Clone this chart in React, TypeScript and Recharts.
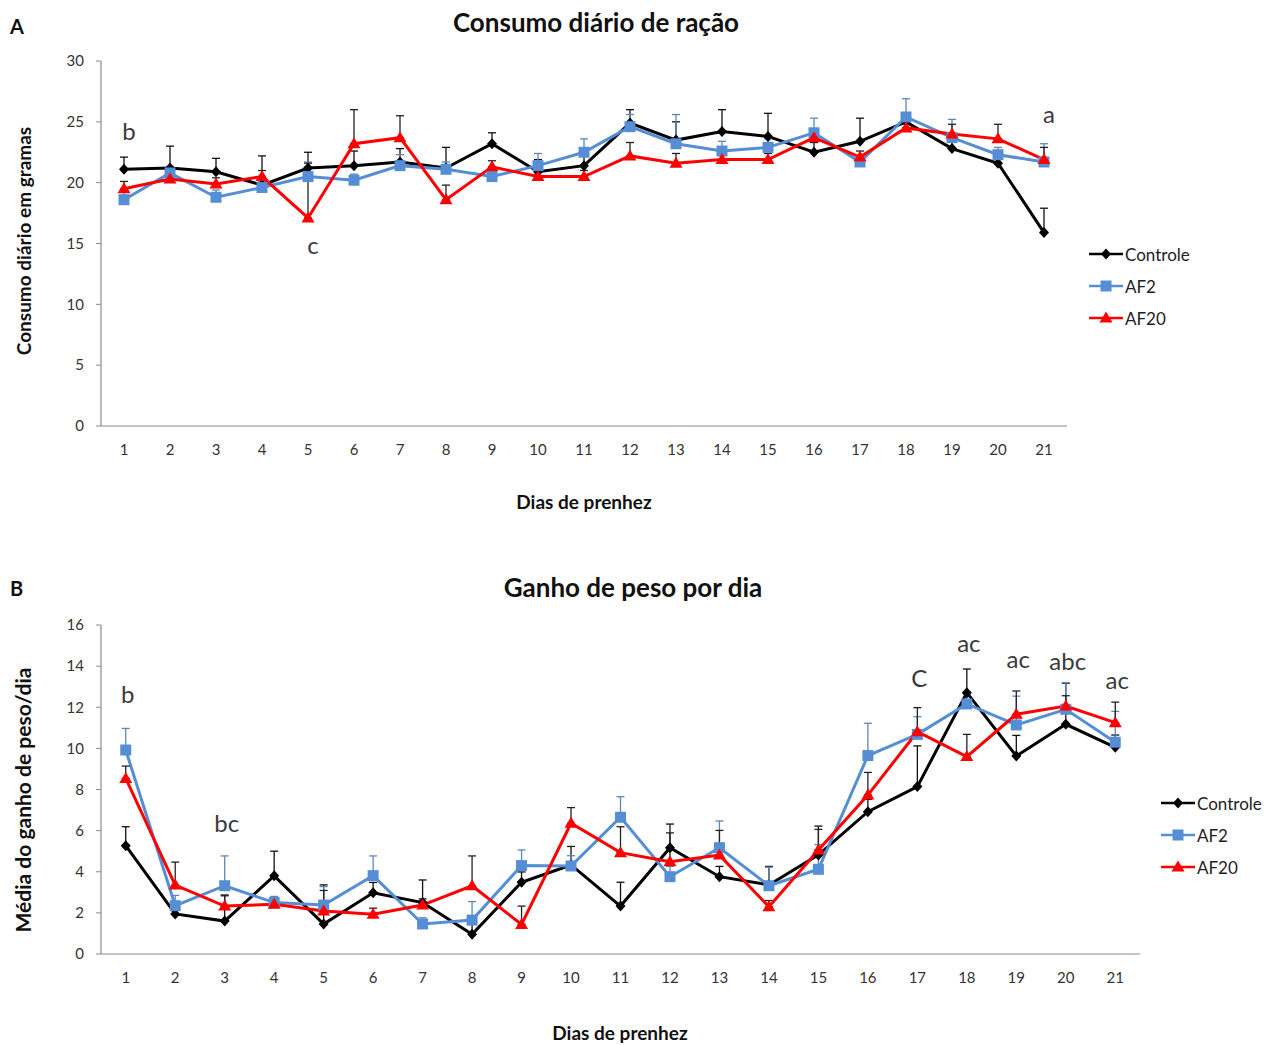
import React from 'react';
import { LineChart, Line, XAxis, YAxis, ErrorBar, ReferenceDot, Legend } from 'recharts';

const days = [1, 2, 3, 4, 5, 6, 7, 8, 9, 10, 11, 12, 13, 14, 15, 16, 17, 18, 19, 20, 21];

// Panel A – Consumo diário de ração (g)
const feedControle = [21.1, 21.2, 20.9, 19.8, 21.2, 21.4, 21.7, 21.2, 23.2, 20.9, 21.4, 24.9, 23.5, 24.2, 23.8, 22.5, 23.4, 25.0, 22.8, 21.6, 15.9];
const feedAF2 = [18.6, 20.8, 18.8, 19.6, 20.5, 20.2, 21.4, 21.1, 20.5, 21.4, 22.5, 24.6, 23.2, 22.6, 22.9, 24.1, 21.7, 25.4, 23.7, 22.3, 21.7];
const feedAF20 = [19.5, 20.3, 19.9, 20.5, 17.1, 23.2, 23.7, 18.6, 21.3, 20.5, 20.5, 22.2, 21.6, 21.9, 21.9, 23.7, 22.1, 24.5, 24.0, 23.6, 21.9];
const feedErrControle = [1.0, 1.8, 1.1, 2.4, 1.3, 1.2, 1.1, 1.7, 0.9, 1.0, 0.9, 1.1, 1.5, 1.8, 1.9, 0.8, 1.9, 0.5, 0.9, 1.0, 2.0];
const feedErrAF2 = [0.8, 0.5, 0.6, 0.5, 1.2, 0.5, 0.9, 0.6, 0.5, 1.0, 1.1, 1.0, 2.4, 0.8, 0.7, 1.2, 0.4, 1.5, 1.5, 0.6, 1.5];
const feedErrAF20 = [0.6, 0.5, 0.5, 0.5, 4.5, 2.8, 1.8, 1.2, 0.5, 0.5, 0.5, 1.1, 0.8, 0.5, 0.5, 0.5, 0.5, 0.5, 0.8, 1.2, 1.0];
const feedTicks = [0, 5, 10, 15, 20, 25, 30];
const feedNotes = [
  { day: 1, value: 24.2, text: 'b' },
  { day: 5, value: 14.8, text: 'c' },
  { day: 21, value: 25.6, text: 'a' },
];

// Panel B – Ganho de peso por dia
const gainControle = [5.27, 1.95, 1.6, 3.8, 1.46, 2.98, 2.5, 0.96, 3.49, 4.33, 2.33, 5.17, 3.76, 3.36, 4.82, 6.92, 8.14, 12.71, 9.63, 11.17, 10.05];
const gainAF2 = [9.92, 2.35, 3.32, 2.5, 2.38, 3.81, 1.46, 1.65, 4.3, 4.28, 6.65, 3.76, 5.17, 3.32, 4.12, 9.65, 10.68, 12.16, 11.14, 11.9, 10.3];
const gainAF20 = [8.54, 3.35, 2.33, 2.42, 2.09, 1.93, 2.38, 3.32, 1.44, 6.36, 4.93, 4.49, 4.81, 2.3, 5.06, 7.73, 10.81, 9.6, 11.66, 12.06, 11.25];
const gainErrControle = [0.92, 0.5, 1.27, 1.2, 1.9, 0.5, 1.1, 0.5, 0.5, 0.9, 1.16, 1.15, 0.5, 0.9, 1.4, 0.6, 1.98, 1.15, 1.0, 2.0, 0.6];
const gainErrAF2 = [1.05, 0.5, 1.45, 0.3, 0.9, 0.96, 0.3, 0.9, 0.76, 0.5, 1.0, 0.5, 1.3, 0.9, 1.2, 1.57, 0.86, 0.5, 1.4, 1.3, 1.5];
const gainErrAF20 = [0.6, 1.12, 0.5, 0.3, 1.0, 0.3, 0.3, 1.45, 0.89, 0.76, 1.26, 1.4, 1.2, 0.3, 1.0, 1.1, 1.17, 1.08, 1.13, 0.5, 1.0];
const gainTicks = [0, 2, 4, 6, 8, 10, 12, 14, 16];
const gainNotes = [
  { day: 1, value: 12.6, text: 'b' },
  { day: 3, value: 6.37, text: 'bc' },
  { day: 17, value: 13.4, text: 'C' },
  { day: 18, value: 15.1, text: 'ac' },
  { day: 19, value: 14.3, text: 'ac' },
  { day: 20, value: 14.25, text: 'abc' },
  { day: 21, value: 13.3, text: 'ac' },
];

const seriesNames = ['Controle', 'AF2', 'AF20'];
const colors = ['#000000', '#558ED5', '#FF0000'];
const errColors = ['#111111', '#5f86b8', '#222222'];

const FONT = 'Lato, "Open Sans", sans-serif';

function build(c: number[], b: number[], r: number[], ec: number[], eb: number[], er: number[]) {
  return days.map((d, i) => ({
    day: d,
    Controle: c[i],
    AF2: b[i],
    AF20: r[i],
    errControle: [0, ec[i]],
    errAF2: [0, eb[i]],
    errAF20: [0, er[i]],
  }));
}

const dataA = build(feedControle, feedAF2, feedAF20, feedErrControle, feedErrAF2, feedErrAF20);
const dataB = build(gainControle, gainAF2, gainAF20, gainErrControle, gainErrAF2, gainErrAF20);

function markerPath(kind: number, cx: number, cy: number) {
  if (kind === 0) return `M${cx},${cy - 5.5}L${cx + 5},${cy}L${cx},${cy + 5.5}L${cx - 5},${cy}Z`;
  if (kind === 1) return `M${cx - 5.5},${cy - 5.5}h11v11h-11Z`;
  return `M${cx},${cy - 6.5}L${cx + 6.5},${cy + 4.5}L${cx - 6.5},${cy + 4.5}Z`;
}

function makeDot(kind: number) {
  return (props: any) => {
    const { cx, cy, index } = props;
    if (cx == null || cy == null) return <g key={`d${kind}-${index}`} />;
    return <path key={`d${kind}-${index}`} d={markerPath(kind, cx, cy)} fill={colors[kind]} stroke="none" />;
  };
}

function LegendBox() {
  return (
    <div style={{ fontFamily: FONT, fontSize: 17, color: '#222' }}>
      {seriesNames.map((n, k) => (
        <div key={n} style={{ display: 'flex', alignItems: 'center', height: 32 }}>
          <svg width={36} height={16} style={{ display: 'block' }}>
            <line x1={1} y1={8} x2={35} y2={8} stroke={colors[k]} strokeWidth={2.5} />
            <path d={markerPath(k, 18, 8)} fill={colors[k]} />
          </svg>
          <span style={{ marginLeft: 1 }}>{n}</span>
        </div>
      ))}
    </div>
  );
}

function Panel(props: {
  data: any[];
  ticks: number[];
  max: number;
  notes: { day: number; value: number; text: string }[];
  width: number;
  height: number;
  margin: any;
  legendLeft: number;
  legendTop: number;
  noteDx: number;
}) {
  const { data, ticks, max, notes, width, height, margin, legendLeft, legendTop, noteDx } = props;
  return (
    <LineChart width={width} height={height} data={data} margin={margin}>
      <XAxis
        dataKey="day"
        type="category"
        scale="band"
        interval={0}
        height={30}
        tickLine={false}
        tickSize={6}
        tickMargin={12}
        axisLine={{ stroke: '#8a8a8a', strokeWidth: 1.2 }}
        tick={{ fill: '#333', fontSize: 15, fontFamily: FONT }}
      />
      <YAxis
        type="number"
        domain={[0, max]}
        ticks={ticks}
        width={60}
        interval={0}
        tickSize={5}
        tickMargin={12}
        axisLine={{ stroke: '#8a8a8a', strokeWidth: 1.2 }}
        tickLine={{ stroke: '#8a8a8a' }}
        tick={{ fill: '#333', fontSize: 15, fontFamily: FONT }}
      />
      {seriesNames.map((n, k) => (
        <Line
          key={n}
          type="linear"
          dataKey={n}
          stroke={colors[k]}
          strokeWidth={3}
          dot={makeDot(k)}
          activeDot={false}
          isAnimationActive={false}
        >
          <ErrorBar dataKey={`err${n}`} direction="y" width={4} stroke={errColors[k]} strokeWidth={1.3} />
        </Line>
      ))}
      {notes.map((a, i) => (
        <ReferenceDot
          key={i}
          x={a.day}
          y={a.value}
          r={1}
          fill="none"
          stroke="none"
          ifOverflow="visible"
          label={{ value: a.text, position: 'center', dx: noteDx, fill: '#3a3a3a', fontSize: 24, fontFamily: FONT }}
        />
      ))}
      <Legend
        layout="vertical"
        align="center"
        verticalAlign="middle"
        content={() => <LegendBox />}
        wrapperStyle={{ left: legendLeft, top: legendTop, width: 140 }}
      />
    </LineChart>
  );
}

const textBold: React.CSSProperties = { position: 'absolute', fontFamily: FONT, fontWeight: 700, color: '#111', whiteSpace: 'nowrap' };

export default function App() {
  return (
    <div style={{ position: 'absolute', left: 0, top: 0, width: 1269, height: 1045, background: '#fff', overflow: 'hidden' }}>
      <div style={{ position: 'absolute', left: 0, top: 0 }}>
        <Panel
          data={dataA}
          ticks={feedTicks}
          max={30}
          notes={feedNotes}
          width={1269}
          height={470}
          margin={{ top: 61, left: 41, right: 202, bottom: 14 }}
          legendLeft={1088}
          legendTop={238}
          noteDx={5}
        />
      </div>
      <div style={{ position: 'absolute', left: 0, top: 560 }}>
        <Panel
          data={dataB}
          ticks={gainTicks}
          max={16}
          notes={gainNotes}
          width={1269}
          height={450}
          margin={{ top: 65, left: 41, right: 129, bottom: 26 }}
          legendLeft={1160}
          legendTop={227}
          noteDx={2}
        />
      </div>

      <div style={{ ...textBold, left: 10, top: 14, fontSize: 20 }}>A</div>
      <div style={{ ...textBold, left: 10, top: 576, fontSize: 20 }}>B</div>
      <div style={{ ...textBold, left: 596, top: 22, fontSize: 26, transform: 'translate(-50%,-50%)' }}>Consumo diário de ração</div>
      <div style={{ ...textBold, left: 633, top: 587, fontSize: 26, transform: 'translate(-50%,-50%)' }}>Ganho de peso por dia</div>
      <div style={{ ...textBold, left: 584, top: 501, fontSize: 19, transform: 'translate(-50%,-50%)' }}>Dias de prenhez</div>
      <div style={{ ...textBold, left: 620, top: 1032, fontSize: 19, transform: 'translate(-50%,-50%)' }}>Dias de prenhez</div>
      <div style={{ ...textBold, left: 23, top: 241, fontSize: 19, transform: 'translate(-50%,-50%) rotate(-90deg)' }}>Consumo diário em gramas</div>
      <div style={{ ...textBold, left: 22, top: 800, fontSize: 21, transform: 'translate(-50%,-50%) rotate(-90deg)' }}>Média do ganho de peso/dia</div>
    </div>
  );
}
